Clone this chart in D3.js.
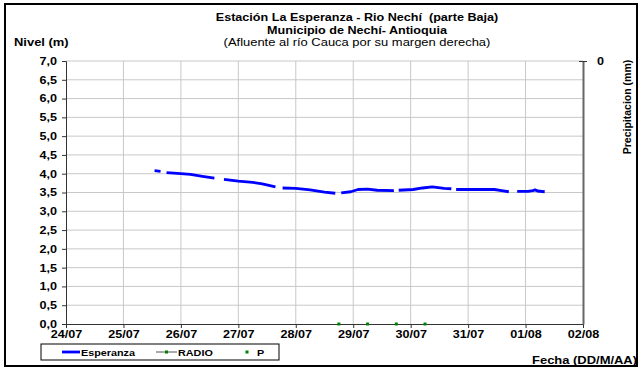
<!DOCTYPE html>
<html>
<head>
<meta charset="utf-8">
<script src="https://cdn.jsdelivr.net/npm/d3@7"></script>
<style>
  html, body { margin: 0; padding: 0; background: #fff; }
  svg { display: block; font-family: "Liberation Sans", Arial, sans-serif; }
</style>
</head>
<body>
<svg id="chart" width="643" height="369"></svg>
<script>
// Nivel del río (m), estación La Esperanza; null marks gaps in the record
const levelTimes = [
  "25/07 13:00", "25/07 15:30", "25/07 16:30", "25/07 18:00", "26/07 00:00",
  "26/07 04:00", "26/07 09:00", "26/07 14:00", "26/07 15:30", "26/07 18:00",
  "27/07 00:00", "27/07 06:00", "27/07 10:00", "27/07 15:30", "27/07 17:00",
  "27/07 18:30", "28/07 00:00", "28/07 06:00", "28/07 12:00", "28/07 16:30",
  "28/07 18:00", "28/07 19:00", "28/07 23:00", "29/07 02:00", "29/07 06:00",
  "29/07 10:00", "29/07 17:00", "29/07 18:00", "29/07 19:00", "30/07 01:00",
  "30/07 05:00", "30/07 09:00", "30/07 14:00", "30/07 17:00", "30/07 18:00",
  "30/07 19:00", "31/07 00:00", "31/07 06:00", "31/07 11:00", "31/07 14:00",
  "31/07 17:00", "31/07 18:30", "31/07 20:30", "01/08 01:00", "01/08 03:00",
  "01/08 04:00", "01/08 05:00", "01/08 08:00"
];
const levelValues = [
  4.08, 4.06, null, 4.03, 4.00,
  3.98, 3.93, 3.88, null, 3.85,
  3.80, 3.77, 3.73, 3.65, null,
  3.62, 3.61, 3.57, 3.51, 3.48,
  null, 3.49, 3.52, 3.58, 3.59,
  3.56, 3.55, null, 3.56, 3.58,
  3.62, 3.65, 3.61, 3.60, null,
  3.58, 3.58, 3.58, 3.58, 3.55,
  3.52, null, 3.53, 3.53, 3.55,
  3.57, 3.54, 3.52
];
// Precipitación (mm)
const rainTimes = ["28/07 18:00", "29/07 06:00", "29/07 18:00", "30/07 06:00"];
const rainValues = [0, 0, 0, 0];

const xTickLabels = ["24/07", "25/07", "26/07", "27/07", "28/07", "29/07", "30/07", "31/07", "01/08", "02/08"];
const yTicks = [0, 0.5, 1, 1.5, 2, 2.5, 3, 3.5, 4, 4.5, 5, 5.5, 6, 6.5, 7];
const rainTicks = [0];
const legendNames = ["Esperanza", "RADIO", "P"];

const YEAR = "2011";
const parse = d3.timeParse("%d/%m/%Y %H:%M");
const t = s => parse(s.replace(" ", "/" + YEAR + " "));
const tDay = s => parse(s + "/" + YEAR + " 00:00");

const svg = d3.select("#chart");
const L = 66, R = 583, T = 61, B = 324;
const font = "'Liberation Sans', Arial, sans-serif";
const SX = 1.2; // horizontal widening of the lettering

// widen text horizontally around its own anchor point
function widen(sel, sx = SX) {
  sel.each(function () {
    const el = d3.select(this);
    const x0 = +el.attr("x") || 0, y0 = +el.attr("y") || 0;
    el.attr("x", 0).attr("y", 0)
      .attr("transform", `translate(${x0},${y0}) scale(${sx},1)`);
  });
  return sel;
}

const x = d3.scaleTime()
  .domain([tDay(xTickLabels[0]), tDay(xTickLabels[xTickLabels.length - 1])])
  .range([L, R]);
const y = d3.scaleLinear().domain([0, 7]).range([B, T]);
const yRain = d3.scaleLinear().domain([0, 1]).range([T, B]);

// outer frame
svg.append("rect").attr("x", 5).attr("y", 4).attr("width", 632).attr("height", 362)
  .attr("fill", "#fff").attr("stroke", "#000").attr("stroke-width", 2);

// grid
const grid = svg.append("g");
grid.selectAll("line.h").data(yTicks.filter(v => v > 0)).join("line")
  .attr("x1", L).attr("x2", R).attr("y1", d => y(d)).attr("y2", d => y(d))
  .attr("stroke", "#c8c8c8").attr("stroke-width", 1);
grid.selectAll("line.v").data(xTickLabels.slice(1, -1)).join("line")
  .attr("x1", d => x(tDay(d))).attr("x2", d => x(tDay(d)))
  .attr("y1", T).attr("y2", B)
  .attr("stroke", "#c8c8c8").attr("stroke-width", 1);

// left axis
const yAxis = svg.append("g").attr("transform", `translate(${L},0)`)
  .call(d3.axisLeft(y).tickValues(yTicks).tickSize(4).tickPadding(5)
    .tickFormat(d => d3.format(".1f")(d).replace(".", ",")));
yAxis.select(".domain").attr("stroke", "#333");
yAxis.selectAll(".tick line").attr("stroke", "#333");
widen(yAxis.selectAll("text").attr("font-family", font).attr("font-size", 10.5)
  .attr("font-weight", "bold").attr("fill", "#000"));

// bottom axis
const xAxis = svg.append("g").attr("transform", `translate(0,${B})`)
  .call(d3.axisBottom(x).tickValues(xTickLabels.map(tDay)).tickSize(4).tickPadding(3)
    .tickFormat(d3.timeFormat("%d/%m")));
xAxis.select(".domain").attr("stroke", "#333");
xAxis.selectAll(".tick line").attr("stroke", "#333");
widen(xAxis.selectAll("text").attr("font-family", font).attr("font-size", 10.5)
  .attr("font-weight", "bold").attr("fill", "#000"));

// right axis (precipitation)
const rAxis = svg.append("g").attr("transform", `translate(${R},0)`)
  .call(d3.axisRight(yRain).tickValues(rainTicks).tickFormat(d3.format("d"))
    .tickSizeInner(4).tickSizeOuter(0).tickPadding(10));
rAxis.select(".domain").attr("stroke", "#666").attr("stroke-width", 2);
rAxis.selectAll(".tick line").attr("stroke", "#333").attr("x1", -4);
widen(rAxis.selectAll("text").attr("font-family", font).attr("font-size", 10.5)
  .attr("font-weight", "bold").attr("fill", "#000"));

// level series
const levelData = levelTimes.map((s, i) => ({ t: t(s), v: levelValues[i] }));
svg.append("path").datum(levelData)
  .attr("fill", "none").attr("stroke", "#0000ff").attr("stroke-width", 2.8)
  .attr("stroke-linejoin", "round")
  .attr("d", d3.line().defined(d => d.v !== null).x(d => x(d.t)).y(d => y(d.v)));

// precipitation points
svg.append("g").selectAll("rect").data(rainTimes.map((s, i) => ({ t: t(s), v: rainValues[i] })))
  .join("rect")
  .attr("x", d => x(d.t) - 1.5).attr("y", d => y(d.v) - 1.5)
  .attr("width", 3).attr("height", 3).attr("fill", "#008000");

// titles
const title = svg.append("g").attr("font-family", font).attr("text-anchor", "middle").attr("fill", "#000");
title.append("text").attr("x", 357).attr("y", 21).attr("font-size", 10.5).attr("font-weight", "bold")
  .attr("xml:space", "preserve").text("Estación La Esperanza - Rio Nechí  (parte Baja)");
title.append("text").attr("x", 357).attr("y", 33.5).attr("font-size", 10.5).attr("font-weight", "bold")
  .text("Municipio de Nechí- Antioquia");
title.append("text").attr("x", 357).attr("y", 46).attr("font-size", 10.8)
  .text("(Afluente al río Cauca por su margen derecha)");
widen(title.selectAll("text"));

widen(svg.append("text").attr("x", 14).attr("y", 46).attr("font-family", font)
  .attr("font-size", 10.8).attr("font-weight", "bold").text("Nivel (m)"));

svg.append("text").attr("transform", "translate(631,107) rotate(-90)")
  .attr("text-anchor", "middle").attr("font-family", font)
  .attr("font-size", 10.5).attr("font-weight", "bold").text("Precipitacion (mm)");

widen(svg.append("text").attr("x", 637).attr("y", 364).attr("text-anchor", "end")
  .attr("font-family", font).attr("font-size", 10.8).attr("font-weight", "bold")
  .text("Fecha (DD/M/AA)"));

// legend
const lg = svg.append("g").attr("font-family", font).attr("font-size", 9).attr("font-weight", "bold");
lg.append("rect").attr("x", 41).attr("y", 344).attr("width", 238).attr("height", 16)
  .attr("fill", "#fff").attr("stroke", "#000").attr("stroke-width", 1);
const legendPos = [62, 156, 243];
// Esperanza
lg.append("line").attr("x1", legendPos[0]).attr("x2", legendPos[0] + 18).attr("y1", 352).attr("y2", 352)
  .attr("stroke", "#0000ff").attr("stroke-width", 2.8);
lg.append("text").attr("x", legendPos[0] + 19).attr("y", 355.5).text(legendNames[0]);
// RADIO
lg.append("line").attr("x1", legendPos[1]).attr("x2", legendPos[1] + 21).attr("y1", 352).attr("y2", 352)
  .attr("stroke", "#555").attr("stroke-width", 1);
lg.append("rect").attr("x", legendPos[1] + 9).attr("y", 350.5).attr("width", 3).attr("height", 3).attr("fill", "#008000");
lg.append("text").attr("x", legendPos[1] + 22).attr("y", 355.5).text(legendNames[1]);
// P
lg.append("rect").attr("x", legendPos[2] + 2.5).attr("y", 350.5).attr("width", 3).attr("height", 3).attr("fill", "#008000");
lg.append("text").attr("x", legendPos[2] + 14).attr("y", 355.5).text(legendNames[2]);
widen(lg.selectAll("text"));
</script>
</body>
</html>
